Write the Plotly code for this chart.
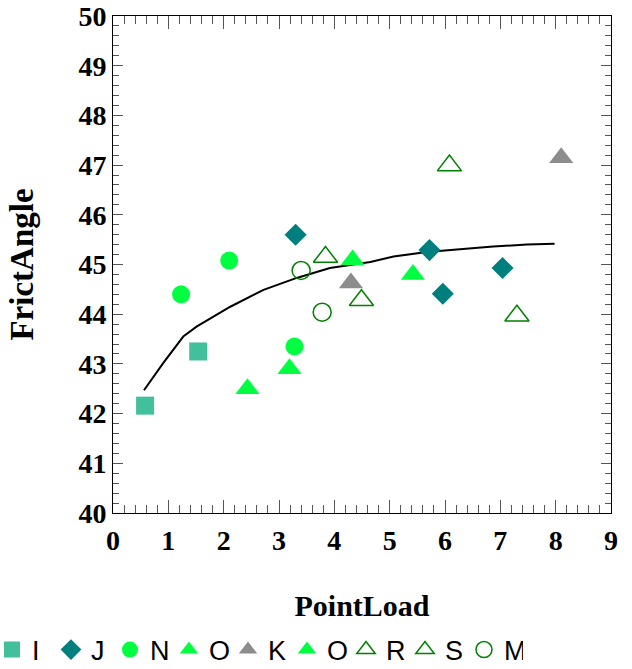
import plotly.graph_objects as go

# ---- data ----
I_x = [0.58, 1.54]
I_y = [42.16, 43.25]
J_x = [3.30, 5.72, 5.96, 7.04]
J_y = [45.60, 45.29, 44.41, 44.93]
N_x = [1.23, 2.10, 3.28]
N_y = [44.40, 45.08, 43.35]
O1_x = [2.43, 3.19]
O1_y = [42.50, 42.90]
K_x = [4.30, 8.10]
K_y = [44.63, 47.15]
O2_x = [4.33, 5.42]
O2_y = [45.09, 44.80]
R_x = [3.84, 4.49]
R_y = [45.15, 44.28]
S_x = [6.08, 7.30]
S_y = [46.99, 43.97]
M_x = [3.40, 3.78]
M_y = [44.88, 44.04]

fit_x = [0.56, 0.91, 1.27, 1.51, 2.12, 2.72, 3.32, 3.92, 4.65, 5.07, 5.67, 6.27, 6.87, 7.48, 7.98]
fit_y = [42.47, 43.02, 43.55, 43.75, 44.15, 44.49, 44.73, 44.93, 45.05, 45.16, 45.25, 45.31, 45.36, 45.40, 45.42]

x_ticks = list(range(0, 10))
y_ticks = list(range(40, 51))

C_SQ = "#42BF9B"
C_DI = "#007F7F"
C_GR = "#00FF40"
C_GY = "#8C8C8C"
C_DG = "#008000"

W, H = 632, 669
ML, MR, MT, MB = 113, 21, 16, 156
PW, PH = W - ML - MR, H - MT - MB

fig = go.Figure()

fig.add_trace(go.Scatter(x=fit_x, y=fit_y, mode="lines",
                         line=dict(color="black", width=2), showlegend=False,
                         hoverinfo="skip"))

def add(name, xs, ys, symbol, color, size, open_=False):
    if open_:
        marker = dict(symbol=symbol, size=size, color=color,
                      line=dict(color=color, width=1.5))
    else:
        marker = dict(symbol=symbol, size=size, color=color,
                      line=dict(width=0))
    fig.add_trace(go.Scatter(x=xs, y=ys, mode="markers", name=name, marker=marker))

add("I", I_x, I_y, "square", C_SQ, 18)
add("J", J_x, J_y, "diamond", C_DI, 17)
add("N", N_x, N_y, "circle", C_GR, 18)
add("O", O1_x, O1_y, "triangle-up", C_GR, 21)
add("K", K_x, K_y, "triangle-up", C_GY, 21)
add("O", O2_x, O2_y, "triangle-up", C_GR, 21)
add("R", R_x, R_y, "triangle-up-open", C_DG, 21, True)
add("S", S_x, S_y, "triangle-up-open", C_DG, 21, True)
add("M", M_x, M_y, "circle-open", C_DG, 18, True)

tick_font = dict(family="Liberation Serif", size=28, color="black")
title_font = dict(family="Liberation Serif", size=30, color="black")

fig.update_layout(
    width=W, height=H,
    margin=dict(l=ML, r=MR, t=MT, b=MB, autoexpand=False),
    paper_bgcolor="white", plot_bgcolor="white",
    showlegend=True,
    legend=dict(orientation="h", xref="paper", yref="paper",
                x=-(ML + 8) / PW, xanchor="left", y=-(650 - (MT + PH)) / PH, yanchor="middle",
                font=dict(family="Liberation Sans", size=27, color="black"),
                itemwidth=30, entrywidth=14, entrywidthmode="pixels",
                tracegroupgap=0, bgcolor="rgba(0,0,0,0)"),
    font=dict(family="Liberation Serif"),
)

fig.update_xaxes(
    range=[0, 9], tickvals=x_ticks, ticktext=[f"<b>{v}</b>" for v in x_ticks],
    ticks="inside", ticklen=13, tickcolor="#555555", tickwidth=1,
    minor=dict(dtick=0.2, ticks="inside", ticklen=8, tickcolor="#555555", tickwidth=1, showgrid=False),
    showline=True, linecolor="black", linewidth=1, mirror="ticks",
    showgrid=False, zeroline=False, tickfont=tick_font, ticklabelstandoff=2,
    title=dict(text="<b>PointLoad</b>", font=title_font, standoff=40),
)
fig.update_yaxes(
    range=[40, 50], tickvals=y_ticks, ticktext=[f"<b>{v}</b>" for v in y_ticks],
    ticks="inside", ticklen=10, tickcolor="#555555", tickwidth=1,
    minor=dict(dtick=0.2, ticks="inside", ticklen=6, tickcolor="#555555", tickwidth=1, showgrid=False),
    showline=True, linecolor="black", linewidth=1, mirror="ticks",
    showgrid=False, zeroline=False, tickfont=tick_font,
    title=dict(text="<b>FrictAngle</b>", font=dict(family="Liberation Serif", size=33, color="black"), standoff=34),
)

fig.write_html("out.html")
